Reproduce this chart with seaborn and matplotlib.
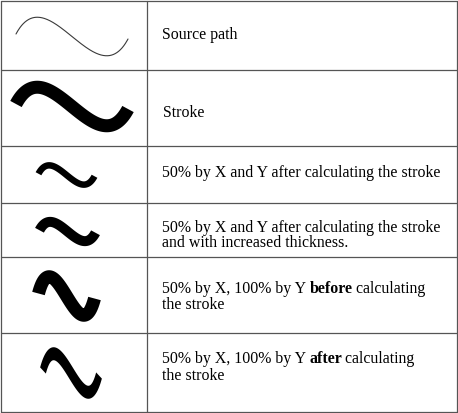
import numpy as np
import pandas as pd
import matplotlib
matplotlib.use("Agg")
import matplotlib.pyplot as plt
import seaborn as sns

# Source curve: cubic bezier control points (pixel units, first row)
ctrl_x = [16, 48, 96, 128]
ctrl_y = [34, -26, 99, 39]

# Table rows: text lines, each line a list of (text, weight) pieces
row_lines = [
    [[("Source path", "normal")]],
    [[("Stroke", "normal")]],
    [[("50% by X and Y after calculating the stroke", "normal")]],
    [[("50% by X and Y after calculating the stroke", "normal")],
     [("and with increased thickness.", "normal")]],
    [[("50% by X, 100% by Y ", "normal"), ("before", "bold"), (" calculating", "normal")],
     [("the stroke", "normal")]],
    [[("50% by X, 100% by Y ", "normal"), ("after", "bold"), (" calculating", "normal")],
     [("the stroke", "normal")]],
]

# Stroke variants: x scale, y scale, stroke width, scale applied before/after stroking
scale_x = [1.0, 0.5, 0.5, 0.5, 0.5]
scale_y = [1.0, 0.5, 0.5, 1.0, 1.0]
stroke_w = [13, 13, 10, 13, 13]
scale_when = ["after", "after", "before", "before", "after"]

# ---- layout ----
W, H = 458, 413
row_edges = [0.5, 70.3, 145.7, 203.3, 257.3, 333.3, 412]
col_edges = [0.5, 146.7, 457]
stroke_centers = [(72, 106.5), (66.5, 175), (67.5, 231.5), (66.5, 296), (71, 373)]
baselines = [[39], [117], [176.7], [231.7, 246.7], [293.3, 309.3], [363.3, 380]]
text_x = 162.5

sns.set_theme(style="white")
plt.rcParams['font.family'] = ['Liberation Serif', 'DejaVu Serif']

fig = plt.figure(figsize=(W / 100, H / 100), dpi=100)
ax = fig.add_axes([0, 0, 1, 1])
ax.set_xlim(0, W)
ax.set_ylim(H, 0)
ax.axis('off')


def bezier(n=300):
    t = np.linspace(0, 1, n)[:, None]
    p = np.array(list(zip(ctrl_x, ctrl_y)), dtype=float)
    pts = ((1 - t) ** 3 * p[0] + 3 * (1 - t) ** 2 * t * p[1]
           + 3 * (1 - t) * t ** 2 * p[2] + t ** 3 * p[3])
    return pts


def outline(pts, w):
    d = np.gradient(pts, axis=0)
    d /= np.linalg.norm(d, axis=1)[:, None]
    nrm = np.column_stack([-d[:, 1], d[:, 0]])
    left = pts + nrm * w / 2
    right = pts - nrm * w / 2
    return np.vstack([left, right[::-1]])


src = bezier()

# first row: the thin source path
df = pd.DataFrame({"x": src[:, 0], "y": src[:, 1]})
sns.lineplot(data=df, x="x", y="y", sort=False, estimator=None,
             color="#3a3a3a", linewidth=0.8, ax=ax)

# stroked variants
for sx, sy, w, when, (cx, cy) in zip(scale_x, scale_y, stroke_w, scale_when, stroke_centers):
    c = src.mean(axis=0)
    if when == "before":
        pts = (src - c) * [sx, sy] + c
        poly = outline(pts, w)
    else:
        poly = outline(src, w)
        poly = (poly - c) * [sx, sy] + c
    mid = (poly.min(axis=0) + poly.max(axis=0)) / 2
    poly = poly - mid + [cx, cy]
    ax.fill(poly[:, 0], poly[:, 1], color="black", lw=0)

# grid lines
for y in row_edges:
    ax.plot([col_edges[0], col_edges[-1]], [y, y], color="#555555", lw=0.9)
for x in col_edges:
    ax.plot([x, x], [row_edges[0], row_edges[-1]], color="#555555", lw=0.9)

# text, pieces placed one after another on a shared baseline
fig.canvas.draw()
renderer = fig.canvas.get_renderer()
inv = ax.transData.inverted()
for lines, ys in zip(row_lines, baselines):
    for pieces, y in zip(lines, ys):
        x = text_x
        for txt, weight in pieces:
            t = ax.text(x, y, txt, fontsize=11.45, fontweight=weight,
                        color="black", va="baseline", ha="left")
            bb = t.get_window_extent(renderer)
            x = inv.transform((bb.x1, bb.y0))[0] - 0.7  # extent runs a bit wide

ax.set_xlim(0, W)
ax.set_ylim(H, 0)
fig.savefig("out.png", dpi=100, facecolor="white")
